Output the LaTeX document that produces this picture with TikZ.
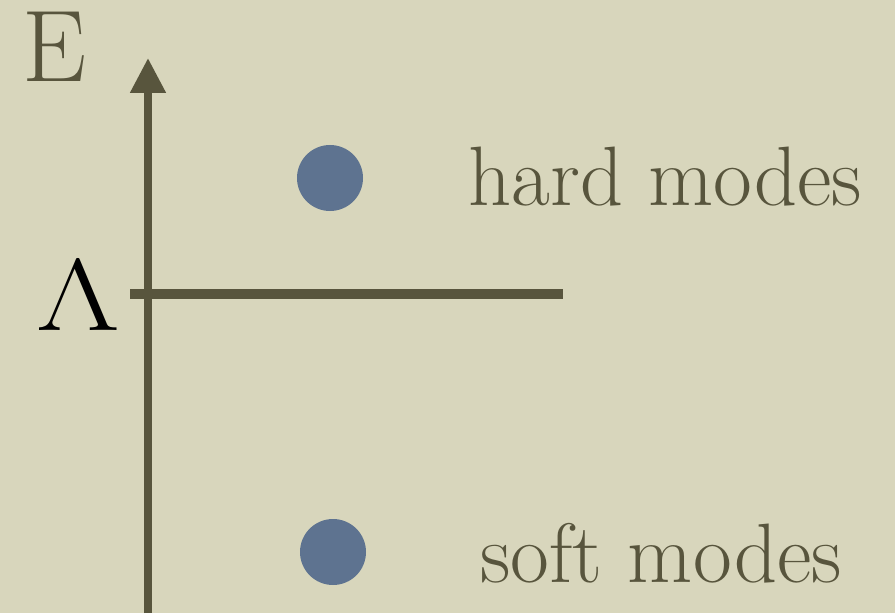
\RequirePackage{fix-cm}
\documentclass[tikz,border=0pt]{standalone}
\usepackage{tikz}
\usetikzlibrary{arrows.meta, positioning}
\definecolor{paper}{HTML}{D8D6BC}
\definecolor{olive}{HTML}{58553D}
\definecolor{slate}{HTML}{5E7390}
\begin{document}
\begin{tikzpicture}[
    axis/.style={line width=4.5pt, draw=olive},
    mode/.style={circle, fill=slate, minimum size=1.32cm, inner sep=0pt},
    biglabel/.style={anchor=base west, inner sep=0pt, text=olive, font=\fontsize{48}{50}\selectfont}
  ]
  % background paper
  \fill[paper] (0,0) rectangle (17.9,12.26);
  \useasboundingbox (0,0) rectangle (17.9,12.26);
  % energy axis
  \coordinate (axbot) at (2.96,0);
  \coordinate (axtop) at (2.96,11.1);
  \draw[axis, -{Triangle[length=0.7cm, width=0.68cm]}] (axbot) -- (axtop);
  \node[biglabel, font=\fontsize{58}{60}\selectfont] (elabel) at (0.45,10.62) {E};
  % cutoff
  \coordinate (cutl) at (2.6,6.38);
  \coordinate (cutr) at (11.26,6.38);
  \draw[axis, line width=6.2pt] (cutl) -- (cutr);
  \node[biglabel, text=black, xscale=1.28, font=\fontsize{58}{60}\selectfont] (cutlabel) at (0.72,5.66) {$\Lambda$};
  % modes
  \node[mode] (hard) at (6.6,8.7) {};
  \node[mode] (soft) at (6.66,1.22) {};
  \node[biglabel] (hardlabel) at (9.36,8.14) {hard modes};
  \node[biglabel] (softlabel) at (9.6,0.62) {soft modes};
\end{tikzpicture}
\end{document}
